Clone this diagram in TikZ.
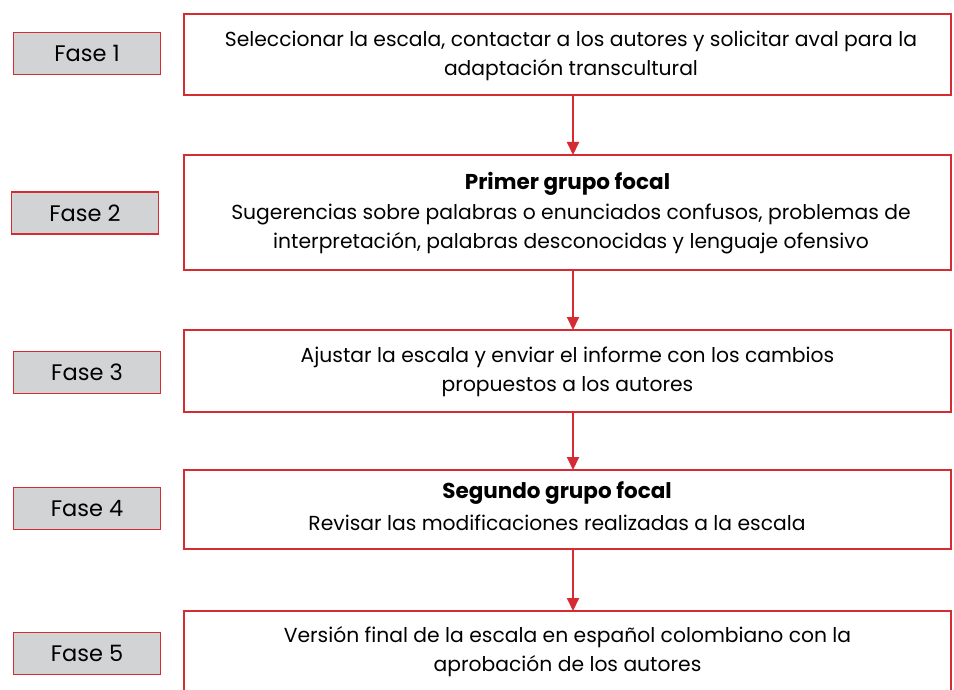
\documentclass[tikz,border=0pt]{standalone}
\usepackage{fontspec}
\setmainfont{Poppins}
\usetikzlibrary{arrows.meta}
\definecolor{fred}{HTML}{D52B33}
\definecolor{fgray}{HTML}{D1D3D4}
\begin{document}
\begin{tikzpicture}[x=1pt,y=-1pt,
  stepbox/.style={draw=fred,line width=2pt},
  fasebox/.style={draw=fred,fill=fgray,line width=1.6pt,minimum width=147pt,minimum height=42pt,inner sep=0pt,font=\fontsize{22.5}{26}\selectfont},
  txt/.style={align=center,font=\fontsize{20.3}{29}\selectfont,inner sep=0pt},
  ttl/.style={font=\fontsize{21.5}{26}\selectfont\bfseries,inner sep=0pt},
  link/.style={draw=fred,line width=2pt,-{Triangle[length=13pt,width=12pt]}}]
\useasboundingbox (0,0) rectangle (954,690);
\clip (0,0) rectangle (954,690);
\fill[white] (0,0) rectangle (954,690);
% phase boxes
\node[fasebox] (f1) at (87,53.5) {Fase 1};
\node[fasebox] (f2) at (85,213) {Fase 2};
\node[fasebox] (f3) at (87,372.5) {Fase 3};
\node[fasebox] (f4) at (87,508.5) {Fase 4};
\node[fasebox] (f5) at (87,653.5) {Fase 5};
% step boxes
\draw[stepbox] (184,14) rectangle (951,95);
\coordinate (b1b) at (573,95);
\draw[stepbox] (184,155) rectangle (951,270);
\coordinate (b2t) at (573,155); \coordinate (b2b) at (573,270);
\draw[stepbox] (184,330) rectangle (951,412);
\coordinate (b3t) at (573,330); \coordinate (b3b) at (573,412);
\draw[stepbox] (184,470) rectangle (951,549);
\coordinate (b4t) at (573,470); \coordinate (b4b) at (573,549);
\draw[stepbox] (184,611) rectangle (951,720);
\coordinate (b5t) at (573,611);
% texts
\node[txt] (t1) at (571,56) {Seleccionar la escala, contactar a los autores y solicitar aval para la\\adaptación transcultural};
\node[ttl] (h2) at (567.5,184) {Primer grupo focal};
\node[txt] (t2) at (571,229) {Sugerencias sobre palabras o enunciados confusos, problemas de\\interpretación, palabras desconocidas y lenguaje ofensivo};
\node[txt] (t3) at (567.5,371.5) {Ajustar la escala y enviar el informe con los cambios\\propuestos a los autores};
\node[ttl] (h4) at (557,493) {Segundo grupo focal};
\node[txt] (t4) at (557,523) {Revisar las modificaciones realizadas a la escala};
\node[txt] (t5) at (567.5,651.5) {Versión final de la escala en español colombiano con la\\aprobación de los autores};
% arrows
\draw[link] (b1b) -- (b2t);
\draw[link] (b2b) -- (b3t);
\draw[link] (b3b) -- (b4t);
\draw[link] (b4b) -- (b5t);
\end{tikzpicture}
\end{document}
